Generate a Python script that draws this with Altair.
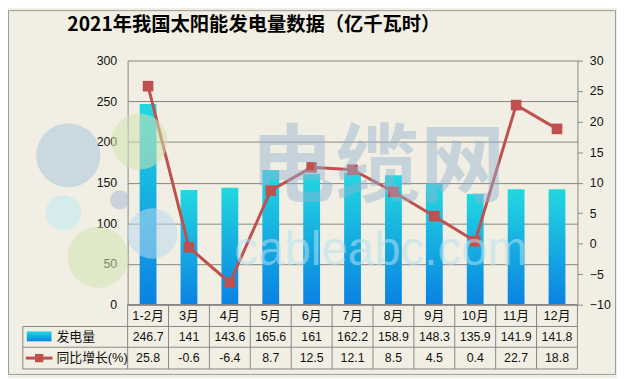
import altair as alt
import pandas as pd

months = ["1-2月", "3月", "4月", "5月", "6月", "7月", "8月", "9月", "10月", "11月", "12月"]
generation = [246.7, 141, 143.6, 165.6, 161, 162.2, 158.9, 148.3, 135.9, 141.9, 141.8]
yoy = [25.8, -0.6, -6.4, 8.7, 12.5, 12.1, 8.5, 4.5, 0.4, 22.7, 18.8]
left_ticks = [0, 50, 100, 150, 200, 250, 300]
right_ticks = [-10, -5, 0, 5, 10, 15, 20, 25, 30]
title_text = "2021年我国太阳能发电量数据（亿千瓦时）"
series_names = ["发电量", "同比增长(%)"]

W, H = 455, 247
PAD_L, PAD_T, PAD_R, PAD_B = 121, 51, 40, 72
GRAY = "#868686"
RED = "#c0504d"
NUM_FONT = "Liberation Sans, Noto Sans CJK SC"
CJK_FONT = "Noto Sans CJK SC"

df = pd.DataFrame({
    "month": months,
    "gen": generation,
    "yoy": yoy,
    "gen_lbl": [f"{v:g}" for v in generation],
    "yoy_lbl": [f"{v:g}" for v in yoy],
})

xscale = alt.Scale(domain=months, paddingInner=0, paddingOuter=0)
X = alt.X("month:N", scale=xscale, axis=None, sort=months)

gradient = alt.Gradient(
    gradient="linear", x1=0, x2=0, y1=0, y2=1,
    stops=[alt.GradientStop(offset=0, color="#22d8e0"),
           alt.GradientStop(offset=1, color="#0a82e2")],
)

base = alt.Chart(df)

bars = base.mark_bar(size=17, color=gradient).encode(
    x=X,
    y=alt.Y("gen:Q", scale=alt.Scale(domain=[0, 300], nice=False, zero=True),
            axis=alt.Axis(orient="left", values=left_ticks, grid=True, gridColor=GRAY,
                          gridWidth=1, domainColor=GRAY, ticks=False, labelPadding=11,
                          labelFontSize=12.5, labelColor="#111", labelFont=NUM_FONT,
                          title=None)),
)

line = base.mark_line(
    color=RED, strokeWidth=3,
    point=alt.OverlayMarkDef(shape="square", size=115, filled=True, color=RED, opacity=1),
).encode(
    x=X,
    y=alt.Y("yoy:Q", scale=alt.Scale(domain=[-10, 30], nice=False, zero=False),
            axis=alt.Axis(orient="right", values=right_ticks, grid=False, domainColor=GRAY,
                          ticks=True, tickSize=5, tickColor=GRAY, labelPadding=7,
                          labelFontSize=12.5, labelColor="#111", labelFont=NUM_FONT,
                          title=None)),
)

# watermark
wm1 = alt.Chart(pd.DataFrame({"t": ["电缆网"]})).mark_text(
    font=CJK_FONT, fontWeight="bold", fontSize=86, color="#93b3d2", opacity=0.45,
    align="center", baseline="middle",
).encode(text="t:N", x=alt.value(253), y=alt.value(110))
wm2 = alt.Chart(pd.DataFrame({"t": ["cableabc.com"]})).mark_text(
    font="Liberation Sans", fontSize=48, color="#b6e2f0", opacity=0.55,
    align="center", baseline="alphabetic",
).encode(text="t:N", x=alt.value(256), y=alt.value(207))

flower = pd.DataFrame({
    "cx": [-60, -65, -30, -8, 12, 25],
    "cy": [96, 154, 199, 141, 82, 175],
    "s": [4200, 1300, 3800, 380, 3200, 2600],
    "c": ["#a9c4dc", "#bfe8f4", "#cfe2b0", "#a9bcd6", "#cfe2b0", "#b9d8ee"],
})
flowers = alt.Chart(flower).mark_circle(opacity=0.55).encode(
    x=alt.X("cx:Q", scale=None), y=alt.Y("cy:Q", scale=None),
    size=alt.Size("s:Q", scale=None), color=alt.Color("c:N", scale=None),
)

# table lines
vlines = base.mark_rule(color=GRAY, strokeWidth=1).encode(
    x=alt.X("month:N", scale=xscale, axis=None, sort=months, bandPosition=0),
    y=alt.value(H), y2=alt.value(H + 65),
)
vedge_r = alt.Chart(pd.DataFrame({"a": [0]})).mark_rule(color=GRAY, strokeWidth=1).encode(
    x=alt.value(W), y=alt.value(H), y2=alt.value(H + 65))
vedge_l = alt.Chart(pd.DataFrame({"a": [0]})).mark_rule(color=GRAY, strokeWidth=1).encode(
    x=alt.value(-106), y=alt.value(H + 22), y2=alt.value(H + 65))
hl_df = pd.DataFrame({"y": [H + 22, H + 43, H + 65]})
hlines = alt.Chart(hl_df).mark_rule(color=GRAY, strokeWidth=1).encode(
    y=alt.Y("y:Q", scale=None), x=alt.value(-106), x2=alt.value(W),
)
axis_line = alt.Chart(pd.DataFrame({"a": [0]})).mark_rule(color=GRAY, strokeWidth=1.5).encode(
    x=alt.value(0), x2=alt.value(W), y=alt.value(H))

# table text
t_month = base.mark_text(font=NUM_FONT, fontSize=13, color="#111", baseline="middle").encode(
    x=X, y=alt.value(H + 11), text="month:N")
t_gen = base.mark_text(font=NUM_FONT, fontSize=12.5, color="#111", baseline="middle").encode(
    x=X, y=alt.value(H + 33), text="gen_lbl:N")
t_yoy = base.mark_text(font=NUM_FONT, fontSize=12.5, color="#111", baseline="middle").encode(
    x=X, y=alt.value(H + 54), text="yoy_lbl:N")

# legend cells
lab_df = pd.DataFrame({"name": series_names, "y": [H + 33, H + 54]})
labels = alt.Chart(lab_df).mark_text(font=NUM_FONT, fontSize=13, color="#111",
                                     align="left", baseline="middle").encode(
    text="name:N", x=alt.value(-72), y=alt.Y("y:Q", scale=None))
sw_bar = alt.Chart(pd.DataFrame({"a": [0]})).mark_rect(color=gradient).encode(
    x=alt.value(-102), x2=alt.value(-77), y=alt.value(H + 27), y2=alt.value(H + 37))
sw_line = alt.Chart(pd.DataFrame({"a": [0]})).mark_rule(color=RED, strokeWidth=3).encode(
    x=alt.value(-103), x2=alt.value(-76), y=alt.value(H + 54))
sw_pt = alt.Chart(pd.DataFrame({"a": [0]})).mark_point(shape="square", filled=True, size=70,
                                                      color=RED, opacity=1).encode(
    x=alt.value(-89.5), y=alt.value(H + 54))

title = alt.Chart(pd.DataFrame({"t": [title_text]})).mark_text(
    font=CJK_FONT, fontWeight="bold", fontSize=19.5, color="#000",
    align="left", baseline="top",
).encode(text="t:N", x=alt.value(-61), y=alt.value(-45))

border = alt.Chart(pd.DataFrame({"a": [0]})).mark_rect(
    fill=None, stroke="#9a9a9a", strokeWidth=1).encode(
    x=alt.value(-PAD_L + 0.5), x2=alt.value(W + PAD_R - 1.5),
    y=alt.value(-PAD_T + 0.5), y2=alt.value(H + PAD_B - 1.5))

chart = alt.layer(
    bars, line, flowers, wm1, wm2,
    vlines, vedge_r, vedge_l, hlines, axis_line,
    t_month, t_gen, t_yoy, labels, sw_bar, sw_line, sw_pt, title, border,
).resolve_scale(y="independent").properties(
    width=W, height=H,
    autosize=alt.AutoSizeParams(type="none"),
    padding={"left": PAD_L, "top": PAD_T, "right": PAD_R, "bottom": PAD_B},
    background="#f1efe3",
).configure_view(stroke=None)

chart.save("out.html", embed_options={"renderer": "svg", "actions": False})
